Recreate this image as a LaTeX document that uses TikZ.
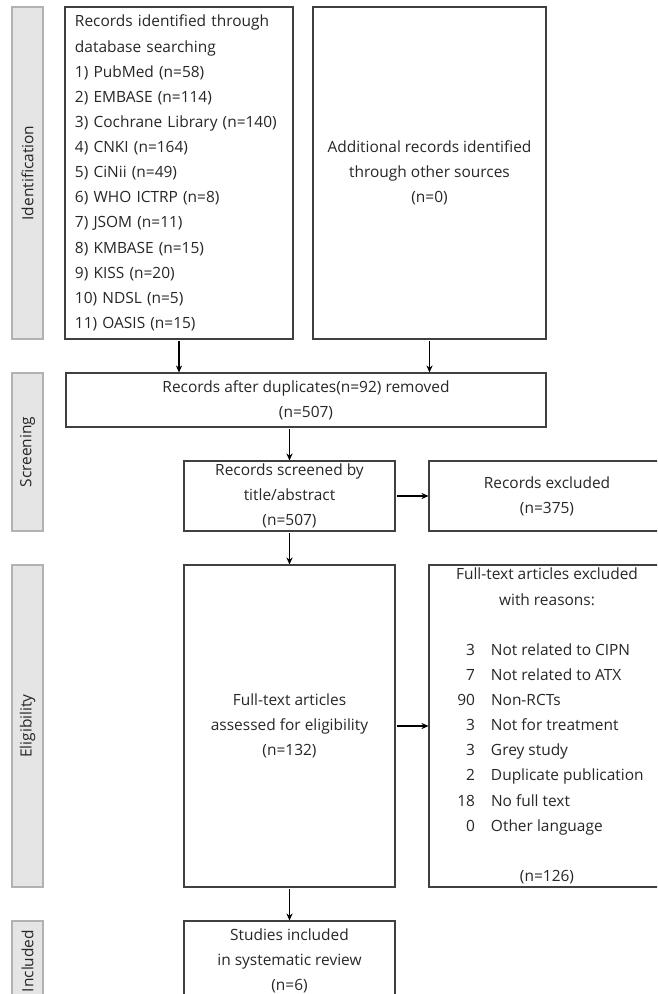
\documentclass[tikz,border=0pt]{standalone}
\usepackage{fontspec}
\usepackage{graphicx}
\setmainfont{Open Sans}
\usetikzlibrary{arrows.meta}

% one reason line: count right aligned, then the reason
\newcommand{\exreason}[2]{\makebox[35.6mm][l]{\makebox[3.4mm][r]{#1}\hspace{3.2mm}#2}}

\begin{document}
\begin{tikzpicture}[x=0.2mm,y=-0.2mm,
    every node/.style={font=\fontsize{8.8}{14.3}\selectfont, text=black!85},
    box/.style={draw=black!75, line width=0.6pt, align=center, inner sep=0pt},
    stage/.style={draw=black!30, fill=black!10, line width=0.6pt, minimum width=6.2mm, inner sep=0pt},
    flow/.style={-{Stealth[length=4pt,width=3.5pt]}, line width=0.6pt, shorten <=1pt}]
    \useasboundingbox (0,0) rectangle (657,994);
    \clip (0,0) rectangle (657,994);

    % stage bars
    \node[stage, minimum height=66.4mm] (idbar) at (27.5,173) {\rotatebox{90}{Identification}};
    \node[stage, minimum height=31.6mm] (scbar) at (27.5,452) {\rotatebox{90}{Screening}};
    \node[stage, minimum height=64.4mm] (elbar) at (27.5,726) {\rotatebox{90}{Eligibility}};
    \node[stage, minimum height=16mm] (inbar) at (27.5,961) {\rotatebox{90}{Included}};

    % identification
    \node[box, align=left, text width=41.6mm, inner xsep=2mm, minimum height=66.4mm] (idl) at (179,173)
        {Records identified through\\database searching\\1) PubMed (n=58)\\2) EMBASE (n=114)\\
         3) Cochrane Library (n=140)\\4) CNKI (n=164)\\5) CiNii (n=49)\\6) WHO ICTRP (n=8)\\
         7) JSOM (n=11)\\8) KMBASE (n=15)\\9) KISS (n=20)\\10) NDSL (n=5)\\11) OASIS (n=15)};
    \node[box, minimum width=46.6mm, minimum height=66.4mm] (idr) at (429.5,173)
        {Additional records identified\\through other sources\\(n=0)};

    % screening
    \node[box, minimum width=96mm, minimum height=10.8mm] (dup) at (306,400)
        {Records after duplicates(n=92) removed\\(n=507)};
    \node[box, minimum width=42.2mm, minimum height=14mm] (scr) at (289.5,496)
        {Records screened by\\title/abstract\\(n=507)};
    \node[box, minimum width=47.2mm, minimum height=14mm] (exc) at (547,496)
        {Records excluded\\(n=375)};

    % eligibility
    \node[box, minimum width=42.2mm, minimum height=64.4mm] (full) at (289.5,726)
        {Full-text articles\\assessed for eligibility\\(n=132)};
    \node[box, minimum width=47.2mm, minimum height=64.4mm] (rsn) at (547,726)
        {Full-text articles excluded\\with reasons:\\[14.3pt]
         \exreason{3}{Not related to CIPN}\\\exreason{7}{Not related to ATX}\\
         \exreason{90}{Non-RCTs}\\\exreason{3}{Not for treatment}\\
         \exreason{3}{Grey study}\\\exreason{2}{Duplicate publication}\\
         \exreason{18}{No full text}\\\exreason{0}{Other language}\\[14.3pt]
         (n=126)};

    % included
    \node[box, minimum width=42.2mm, minimum height=16mm] (inc) at (289.5,961)
        {Studies included\\in systematic review\\(n=6)};

    % connectors
    \draw[flow] (idl.south) -- (idl.south |- dup.north);
    \draw[flow] (idr.south) -- (idr.south |- dup.north);
    \draw[flow] (scr.north |- dup.south) -- (scr.north);
    \draw[flow] (scr.east) -- (exc.west);
    \draw[flow] (scr.south) -- (full.north);
    \draw[flow] (full.east) -- (rsn.west);
    \draw[flow] (full.south) -- (inc.north);
\end{tikzpicture}
\end{document}
